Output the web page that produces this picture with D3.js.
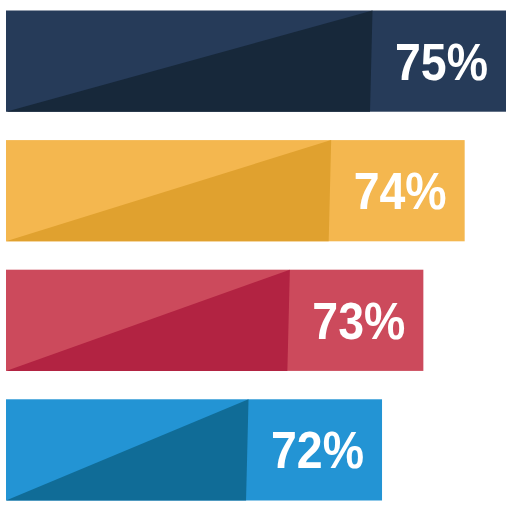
<!DOCTYPE html>
<html>
<head>
<meta charset="utf-8">
<script src="https://cdn.jsdelivr.net/npm/d3@7"></script>
<style>
  html, body { margin: 0; padding: 0; background: #ffffff; }
  svg { display: block; }
</style>
</head>
<body>
<div id="chart"></div>
<script>
const categories = ["A", "B", "C", "D"];
const values = [75, 74, 73, 72];
const labels = ["75%", "74%", "73%", "72%"];
const mainColors = ["#263b59", "#f4b74f", "#cc4a5c", "#2394d4"];
const darkColors = ["#17283a", "#e0a12f", "#b22342", "#106c97"];

const W = 512, H = 512;
const svg = d3.select("#chart").append("svg").attr("width", W).attr("height", H);

const x = d3.scaleLinear().domain([62.9, 75]).range([6, 506]);
const y = d3.scaleBand().domain(categories).range([10.5, 500.5]).paddingInner(0.219).paddingOuter(0);

const data = categories.map((c, i) => ({ c, v: values[i], label: labels[i], main: mainColors[i], dark: darkColors[i] }));

const g = svg.selectAll("g.bar").data(data).enter().append("g").attr("class", "bar");

g.append("rect")
  .attr("x", x(62.9))
  .attr("y", d => y(d.c))
  .attr("width", d => x(d.v) - x(62.9))
  .attr("height", y.bandwidth())
  .attr("fill", d => d.main);

const wedgeTop = 133.5, wedgeBot = 136;
g.append("path")
  .attr("d", d => {
    const x0 = x(62.9), x1 = x(d.v);
    const t = y(d.c), b = y(d.c) + y.bandwidth();
    return `M${x0},${b} L${x1 - wedgeTop},${t} L${x1 - wedgeBot},${b} Z`;
  })
  .attr("fill", d => d.dark);

g.append("text")
  .attr("x", d => x(d.v) - 18)
  .attr("y", d => y(d.c) + y.bandwidth() / 2 + 1)
  .attr("text-anchor", "end")
  .attr("dominant-baseline", "central")
  .attr("fill", "#ffffff")
  .attr("font-family", "Liberation Sans, Arial, sans-serif")
  .attr("font-weight", "bold")
  .attr("font-size", 51)
  .attr("textLength", 93)
  .attr("lengthAdjust", "spacingAndGlyphs")
  .text(d => d.label);
</script>
</body>
</html>
